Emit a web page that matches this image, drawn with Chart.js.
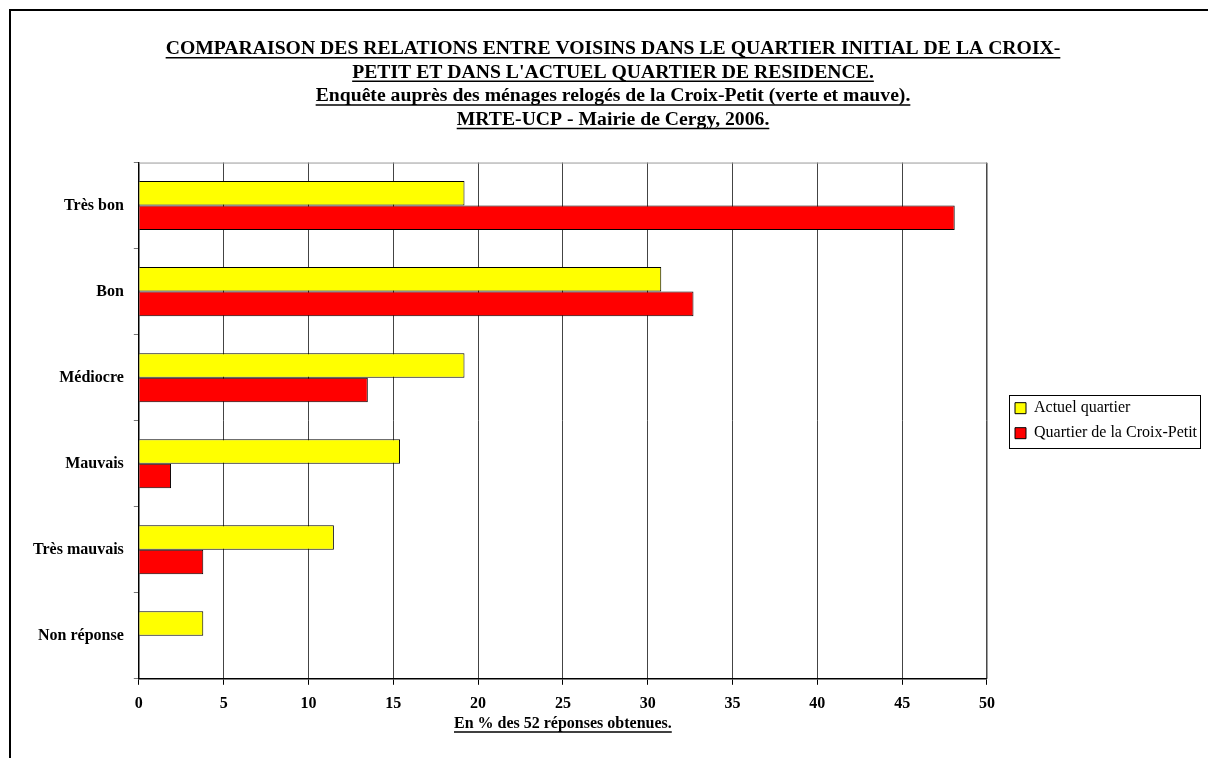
<!DOCTYPE html>
<html lang="fr">
<head>
<meta charset="utf-8">
<script src="https://cdn.jsdelivr.net/npm/chart.js@4.4.1/dist/chart.umd.min.js"></script>
<style>
    html, body { margin: 0; padding: 0; background: #fff; }
    #wrap { position: relative; width: 1208px; height: 758px; overflow: hidden; }
    #frame { position: absolute; left: 9px; top: 9px; width: 1300px; height: 800px;
             border-top: 2px solid #000; border-left: 2px solid #000; pointer-events: none; }
    canvas { position: absolute; left: 0; top: 0; }
</style>
</head>
<body>
<div id="wrap">
    <canvas id="chartVoisins" width="1208" height="758"></canvas>
    <div id="frame"></div>
</div>
<script>
// Données (en % des 52 réponses)
const categories = ['Très bon', 'Bon', 'Médiocre', 'Mauvais', 'Très mauvais', 'Non réponse'];
const actuelQuartier = [19.2, 30.8, 19.2, 15.4, 11.5, 3.8];
const croixPetit = [48.1, 32.7, 13.5, 1.9, 3.8, 0];
const seriesLabels = ['Actuel quartier', 'Quartier de la Croix-Petit'];
const titleLines = [
    "COMPARAISON DES RELATIONS ENTRE VOISINS DANS LE QUARTIER INITIAL DE LA CROIX-",
    "PETIT ET DANS L'ACTUEL QUARTIER DE RESIDENCE.",
    "Enquête auprès des ménages relogés de la Croix-Petit (verte et mauve).",
    "MRTE-UCP - Mairie de Cergy, 2006."
];
const xAxisTitle = 'En % des 52 réponses obtenues.';

document.addEventListener('DOMContentLoaded', () => {
    const serif = "'Liberation Serif', 'Times New Roman', serif";
    const legendX = 1015;   // bord gauche des carrés de la légende
    const titleCenter = 613; // centre horizontal du titre

    // trait de soulignement sous le titre et le titre de l'axe X
    function underline(ctx, text, cx, y, font) {
        ctx.save();
        ctx.font = font;
        const w = ctx.measureText(text).width;
        ctx.strokeStyle = '#000';
        ctx.lineWidth = 1.5;
        ctx.beginPath();
        ctx.moveTo(cx - w / 2, y);
        ctx.lineTo(cx + w / 2, y);
        ctx.stroke();
        ctx.restore();
    }

    const decorPlugin = {
        id: 'decor',
        afterLayout(chart) {
            const tb = chart.titleBlock;
            const shift = titleCenter - (tb.left + tb.right) / 2;
            tb.left += shift;
            tb.right += shift;
        },
        afterUpdate(chart) {
            // place la légende à droite, centrée sur la zone de tracé
            const lg = chart.legend;
            const boxes = lg.legendHitBoxes;
            if (!boxes || !boxes.length) return;
            const a = chart.chartArea;
            const first = boxes[0];
            const last = boxes[boxes.length - 1];
            const dx = legendX - first.left;
            const dy = (a.top + a.bottom) / 2 - (first.top + last.top + last.height) / 2;
            lg.left += dx; lg.right += dx;
            lg.top += dy; lg.bottom += dy;
            boxes.forEach(b => { b.left += dx; b.top += dy; });
        },
        beforeDatasetsDraw(chart) {
            // cadre gris de la zone de tracé
            const { ctx, chartArea: a } = chart;
            ctx.save();
            ctx.strokeStyle = '#999';
            ctx.lineWidth = 1;
            ctx.beginPath();
            ctx.moveTo(a.left, a.top + 0.5);
            ctx.lineTo(a.right + 0.5, a.top + 0.5);
            ctx.lineTo(a.right + 0.5, a.bottom);
            ctx.stroke();
            ctx.restore();
        },
        afterDraw(chart) {
            const ctx = chart.ctx;
            // soulignement des lignes du titre
            const tb = chart.titleBlock;
            const tOpts = chart.options.plugins.title;
            const fontStr = `bold ${tOpts.font.size}px ${serif}`;
            const lh = tOpts.font.size * tOpts.font.lineHeight;
            const cx = (tb.left + tb.right) / 2;
            titleLines.forEach((line, i) => {
                const y = tb.top + tOpts.padding.top + lh * i + lh / 2 + tOpts.font.size * 0.45;
                underline(ctx, line, cx, y, fontStr);
            });
            // soulignement du titre de l'axe X
            const xs = chart.scales.x;
            const xt = chart.options.scales.x.title;
            const ax = (chart.chartArea.left + chart.chartArea.right) / 2;
            underline(ctx, xAxisTitle, ax, xs.bottom - xt.padding.bottom, `bold ${xt.font.size}px ${serif}`);

            // cadre de la légende
            const boxes = chart.legend.legendHitBoxes;
            if (boxes && boxes.length) {
                const l = Math.min(...boxes.map(b => b.left)) - 6;
                const t = Math.min(...boxes.map(b => b.top)) - 5;
                const r = Math.max(...boxes.map(b => b.left + b.width)) + 3;
                const bt = Math.max(...boxes.map(b => b.top + b.height)) + 7;
                ctx.save();
                ctx.strokeStyle = '#000';
                ctx.lineWidth = 1;
                ctx.strokeRect(Math.round(l) + 0.5, Math.round(t) + 0.5, Math.round(r - l), Math.round(bt - t));
                ctx.restore();
            }
        }
    };

    const ctx = document.getElementById('chartVoisins').getContext('2d');
    new Chart(ctx, {
        type: 'bar',
        data: {
            labels: categories,
            datasets: [{
                label: seriesLabels[0],
                data: actuelQuartier,
                backgroundColor: '#FFFF00',
                borderColor: '#000',
                borderWidth: 1
            }, {
                label: seriesLabels[1],
                data: croixPetit,
                backgroundColor: '#FF0000',
                borderColor: '#000',
                borderWidth: 1
            }]
        },
        options: {
            indexAxis: 'y',
            responsive: false,
            animation: false,
            categoryPercentage: 0.57,
            barPercentage: 1.0,
            layout: { padding: { left: 23, right: 20, top: 0, bottom: 14 } },
            plugins: {
                title: {
                    display: true,
                    text: titleLines,
                    color: '#000',
                    font: { family: serif, size: 19.7, weight: 'bold', lineHeight: 1.2 },
                    padding: { top: 37, bottom: 31 }
                },
                legend: {
                    position: 'right',
                    align: 'center',
                    labels: {
                        color: '#000',
                        font: { family: serif, size: 16 },
                        boxWidth: 11,
                        boxHeight: 11,
                        padding: 9
                    }
                },
                tooltip: { enabled: false }
            },
            scales: {
                x: {
                    min: 0,
                    max: 50,
                    ticks: {
                        stepSize: 5,
                        color: '#000',
                        font: { family: serif, size: 16, weight: 'bold' },
                        padding: 9
                    },
                    grid: {
                        color: '#444',
                        lineWidth: 1,
                        tickLength: 6,
                        tickColor: '#000'
                    },
                    border: { color: '#000', width: 1.5 },
                    title: {
                        display: true,
                        text: xAxisTitle,
                        color: '#000',
                        font: { family: serif, size: 16, weight: 'bold', lineHeight: 1 },
                        padding: { top: -6, bottom: 12 }
                    }
                },
                y: {
                    ticks: {
                        color: '#000',
                        font: { family: serif, size: 16, weight: 'bold' },
                        padding: 10
                    },
                    grid: {
                        drawOnChartArea: false,
                        tickLength: 5,
                        tickColor: '#777'
                    },
                    border: { color: '#000', width: 1.5 }
                }
            }
        },
        plugins: [decorPlugin]
    });
});
</script>
</body>
</html>
